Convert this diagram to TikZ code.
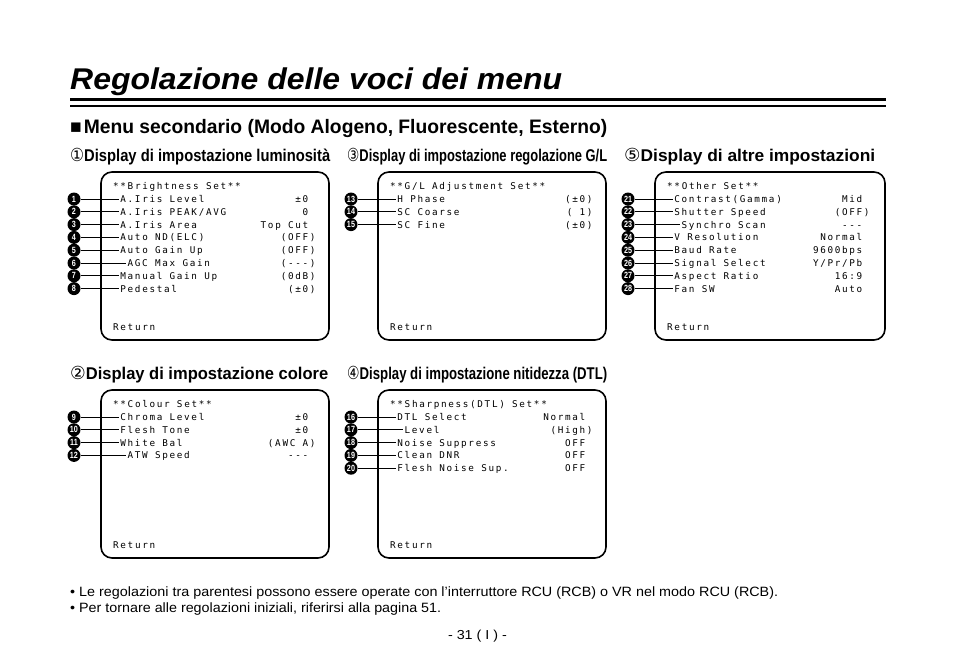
\documentclass[tikz,border=0pt]{standalone}
\usepackage{fontspec}
\usepackage{graphicx}
\setmainfont{Liberation Sans}
\newfontfamily\osdfont[LetterSpace=18]{DejaVu Sans Mono}
\newfontfamily\symfont{DejaVu Sans}
\newcommand{\fitw}[2]{\resizebox{#1}{\height}{#2}}
\newcommand{\circnum}[1]{{\symfont\mdseries\fontsize{18}{18}\selectfont #1}}

\begin{document}
\begin{tikzpicture}[x=1pt,y=-1pt,
  osd/.style={font=\osdfont\fontsize{9.3}{10}\selectfont,inner sep=0pt},
  num/.style={circle,fill=black,text=white,inner sep=0pt,minimum size=13pt,
              font=\fontsize{9}{9}\selectfont\bfseries},
  lead/.style={line width=0.8pt,shorten >=1.5pt},
  screen/.style={line width=1.6pt,rounded corners=11pt},
  head/.style={anchor=base west,inner sep=0pt,font=\fontsize{17}{20}\selectfont\bfseries}]
  \useasboundingbox (0,0) rectangle (954,672);

  % title & rules
  \node[anchor=base west,inner sep=0pt,font=\fontsize{30}{34}\selectfont\bfseries\itshape]
      (title) at (70,89) {\fitw{492pt}{Regolazione delle voci dei menu}};
  \draw[line width=3.6pt] (70,99.5) -- (886,99.5);
  \draw[line width=1.2pt] (70,106) -- (886,106);
  \node[anchor=base west,inner sep=0pt,font=\fontsize{19.5}{22}\selectfont\bfseries]
      (sub) at (70,133) {\fitw{537pt}{■\hspace{2pt}Menu secondario (Modo Alogeno, Fluorescente, Esterno)}};

  % headings
  \node[head] (h1) at (70,161)  {\fitw{260pt}{\circnum{①}Display di impostazione luminosità}};
  \node[head] (h3) at (347,161) {\fitw{260pt}{\circnum{③}Display di impostazione regolazione G/L}};
  \node[head] (h5) at (624,161) {\fitw{251pt}{\circnum{⑤}Display di altre impostazioni}};
  \node[head] (h2) at (70,379)  {\fitw{258pt}{\circnum{②}Display di impostazione colore}};
  \node[head] (h4) at (347,379) {\fitw{260pt}{\circnum{④}Display di impostazione nitidezza (DTL)}};

  % (1) brightness
  \begin{scope}[shift={(101,172)}]
    \draw[screen] (0,0) rectangle (228,168);
    \node[osd,anchor=base west] (set1) at (12,17.5) {**Brightness Set**};
    \foreach \n/\c/\lab/\val/\r [count=\k from 0] in {
        1/1/A.Iris Level/±0/27, 2/1/{A.Iris PEAK/AVG}/0/27, 3/1/A.Iris Area/Top Cut/27,
        4/1/Auto ND(ELC)/(OFF)/28, 5/1/Auto Gain Up/(OFF)/28, 6/2/AGC Max Gain/(-{}-{}-)/28,
        7/1/Manual Gain Up/(0dB)/28, 8/1/Pedestal/(±0)/28}{
      \node[num] (c\n) at (-27,{27+12.8*\k}) {\scalebox{0.8}[1]{\n}};
      \node[osd,anchor=base west] (t\n) at ({12+7.24*\c},{30.5+12.8*\k}) {\lab};
      \node[osd,anchor=base east] (v\n) at ({12+7.24*\r},{30.5+12.8*\k}) {\val};
      \draw[lead] (c\n) -- (c\n -| t\n.west);
    }
    \node[osd,anchor=base west] (ret1) at (12,158.5) {Return};
  \end{scope}

  % (3) G/L
  \begin{scope}[shift={(378,172)}]
    \draw[screen] (0,0) rectangle (228,168);
    \node[osd,anchor=base west] (set3) at (12,17.5) {**G/L Adjustment Set**};
    \foreach \n/\c/\lab/\val/\r [count=\k from 0] in {
        13/1/H Phase/(±0)/28, 14/1/SC Coarse/( 1)/28, 15/1/SC Fine/(±0)/28}{
      \node[num] (c\n) at (-27,{27+12.8*\k}) {\scalebox{0.8}[1]{\n}};
      \node[osd,anchor=base west] (t\n) at ({12+7.24*\c},{30.5+12.8*\k}) {\lab};
      \node[osd,anchor=base east] (v\n) at ({12+7.24*\r},{30.5+12.8*\k}) {\val};
      \draw[lead] (c\n) -- (c\n -| t\n.west);
    }
    \node[osd,anchor=base west] (ret3) at (12,158.5) {Return};
  \end{scope}

  % (5) other
  \begin{scope}[shift={(655,172)}]
    \draw[screen] (0,0) rectangle (230,168);
    \node[osd,anchor=base west] (set5) at (12,17.5) {**Other Set**};
    \foreach \n/\c/\lab/\val/\r [count=\k from 0] in {
        21/1/Contrast(Gamma)/Mid/27, 22/1/Shutter Speed/(OFF)/28, 23/2/Synchro Scan/-{}-{}-/27,
        24/1/V Resolution/Normal/27, 25/1/Baud Rate/9600bps/27, 26/1/Signal Select/{Y/Pr/Pb}/27,
        27/1/Aspect Ratio/16:9/27, 28/1/Fan SW/Auto/27}{
      \node[num] (c\n) at (-27,{27+12.8*\k}) {\scalebox{0.8}[1]{\n}};
      \node[osd,anchor=base west] (t\n) at ({12+7.24*\c},{30.5+12.8*\k}) {\lab};
      \node[osd,anchor=base east] (v\n) at ({12+7.24*\r},{30.5+12.8*\k}) {\val};
      \draw[lead] (c\n) -- (c\n -| t\n.west);
    }
    \node[osd,anchor=base west] (ret5) at (12,158.5) {Return};
  \end{scope}

  % (2) colour
  \begin{scope}[shift={(101,390)}]
    \draw[screen] (0,0) rectangle (228,168);
    \node[osd,anchor=base west] (set2) at (12,17.5) {**Colour Set**};
    \foreach \n/\c/\lab/\val/\r [count=\k from 0] in {
        9/1/Chroma Level/±0/27, 10/1/Flesh Tone/±0/27, 11/1/White Bal/(AWC A)/28,
        12/2/ATW Speed/-{}-{}-/27}{
      \node[num] (c\n) at (-27,{27+12.8*\k}) {\scalebox{0.8}[1]{\n}};
      \node[osd,anchor=base west] (t\n) at ({12+7.24*\c},{30.5+12.8*\k}) {\lab};
      \node[osd,anchor=base east] (v\n) at ({12+7.24*\r},{30.5+12.8*\k}) {\val};
      \draw[lead] (c\n) -- (c\n -| t\n.west);
    }
    \node[osd,anchor=base west] (ret2) at (12,158.5) {Return};
  \end{scope}

  % (4) sharpness
  \begin{scope}[shift={(378,390)}]
    \draw[screen] (0,0) rectangle (228,168);
    \node[osd,anchor=base west] (set4) at (12,17.5) {**Sharpness(DTL) Set**};
    \foreach \n/\c/\lab/\val/\r [count=\k from 0] in {
        16/1/DTL Select/Normal/27, 17/2/Level/(High)/28, 18/1/Noise Suppress/OFF/27,
        19/1/Clean DNR/OFF/27, 20/1/Flesh Noise Sup./OFF/27}{
      \node[num] (c\n) at (-27,{27+12.8*\k}) {\scalebox{0.8}[1]{\n}};
      \node[osd,anchor=base west] (t\n) at ({12+7.24*\c},{30.5+12.8*\k}) {\lab};
      \node[osd,anchor=base east] (v\n) at ({12+7.24*\r},{30.5+12.8*\k}) {\val};
      \draw[lead] (c\n) -- (c\n -| t\n.west);
    }
    \node[osd,anchor=base west] (ret4) at (12,158.5) {Return};
  \end{scope}

  % notes
  \node[anchor=base west,inner sep=0pt,font=\fontsize{13.5}{16}\selectfont] (note1) at (70,596)
      {\fitw{708pt}{• Le regolazioni tra parentesi possono essere operate con l’interruttore RCU (RCB) o VR nel modo RCU (RCB).}};
  \node[anchor=base west,inner sep=0pt,font=\fontsize{13.5}{16}\selectfont] (note2) at (70,612)
      {\fitw{371pt}{• Per tornare alle regolazioni iniziali, riferirsi alla pagina 51.}};
  \node[anchor=base,inner sep=0pt,font=\fontsize{13}{15}\selectfont] (page) at (477.5,639)
      {\fitw{59pt}{- 31 ( I ) -}};
\end{tikzpicture}
\end{document}
